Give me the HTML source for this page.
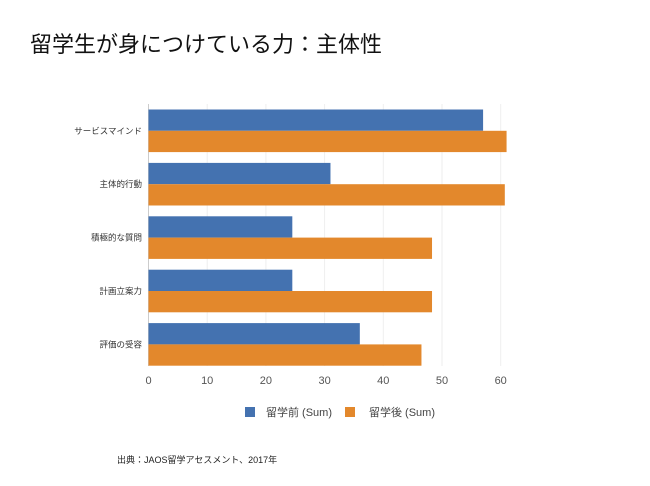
<!DOCTYPE html>
<html><head><meta charset="utf-8"><style>
body{margin:0;background:#fff;width:650px;height:481px;overflow:hidden;font-family:"Liberation Sans","Noto Sans CJK JP",sans-serif;}
</style></head><body>
<svg width="650" height="481" xmlns="http://www.w3.org/2000/svg" font-family="Liberation Sans, Noto Sans CJK JP, sans-serif">
<text x="30" y="52" font-size="22" fill="#111">留学生が身につけている力：主体性</text>
<g id="grid"></g><g id="bars"></g><g id="labels"></g>
<g>
<rect x="245" y="407" width="10" height="10" fill="#4472b0"/>
<text x="266" y="416" font-size="11" fill="#444">留学前 (Sum)</text>
<rect x="345" y="407" width="10" height="10" fill="#e3882c"/>
<text x="369" y="416" font-size="11" fill="#444">留学後 (Sum)</text>
</g>
<text x="117" y="463" font-size="9" fill="#222">出典：JAOS留学アセスメント、2017年</text>
</svg>
<script>
const categories=["サービスマインド","主体性的行動".replace("性",""),"積極的な質問","計画立案力","評価の受容"];
const before=[57,31,24.5,24.5,36];
const after=[61,60.7,48.3,48.3,46.5];
const ticks=[0,10,20,30,40,50,60];
const NS="http://www.w3.org/2000/svg";
const x0=148.5,scale=(500.7-148.5)/60,top0=109.5,period=53.4,bh=21.3,axisBottom=366;
const xs=v=>x0+v*scale;
function mk(t,a,p){const e=document.createElementNS(NS,t);for(const k in a)e.setAttribute(k,a[k]);document.getElementById(p).appendChild(e);return e;}
ticks.forEach((t,i)=>{
 const l=mk('line',{x1:xs(t),x2:xs(t),y1:104,y2:axisBottom,stroke:t===0?'#ccc':'#eee','stroke-width':1},'grid');
 
 
 const tx=mk('text',{x:xs(t),y:384,'font-size':11,fill:'#555','text-anchor':'middle'},'labels');
 tx.textContent=t;
 
 
});
categories.forEach((c,i)=>{
 const y=top0+i*period;
 const b=mk('rect',{x:x0,y:y,width:xs(before[i])-x0,height:bh,fill:'#4472b0'},'bars');
 
 
 const a=mk('rect',{x:x0,y:y+bh,width:xs(after[i])-x0,height:bh,fill:'#e3882c'},'bars');
 
 
 const t=mk('text',{x:142,y:y+bh+3,'font-size':8.5,fill:'#333','text-anchor':'end'},'labels');
 t.textContent=c;
 
 
});
</script>
</body></html>
